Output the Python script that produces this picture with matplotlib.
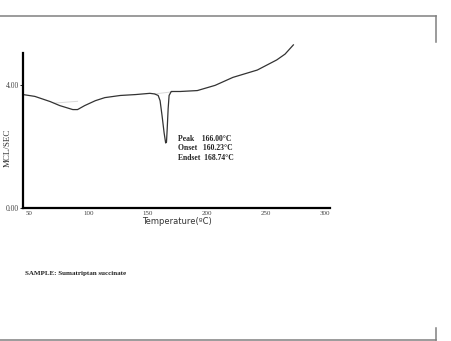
import numpy as np
import matplotlib
matplotlib.use("Agg")
import matplotlib.pyplot as plt
from matplotlib.lines import Line2D

# DSC curve of sumatriptan succinate
temp = [45, 55, 68, 76, 87, 91, 97, 106, 114, 127, 140, 152, 156, 159,
        160.6, 162.3, 164, 165.3, 166, 166.6, 167.4, 168.2, 170, 177.5,
        192, 207, 222, 242.6, 259, 266, 273]
mcl = [3.70, 3.64, 3.47, 3.34, 3.21, 3.21, 3.34, 3.50, 3.60, 3.67, 3.70,
       3.74, 3.72, 3.67, 3.50, 3.00, 2.45, 2.12, 2.15, 2.58, 3.24, 3.67,
       3.80, 3.80, 3.83, 4.00, 4.26, 4.50, 4.83, 5.02, 5.32]

# faint integration baselines
base1_t = [71, 91]
base1_v = [3.42, 3.48]
base2_t = [156, 171]
base2_v = [3.72, 3.79]

xticks = [50, 100, 150, 200, 250, 300]
yticks = [0, 4]
ylabels = ["0.00", "4.00"]

info = ["Peak    166.00°C", "Onset   160.23°C", "Endset  168.74°C"]
serif = "Liberation Serif"

fig = plt.figure(figsize=(4.51, 3.41), dpi=100)
ax = fig.add_axes([0.051, 0.390, 0.681, 0.455])

ax.plot(base1_t, base1_v, color="#dadada", lw=0.7)
ax.plot(base2_t, base2_v, color="#dadada", lw=0.7)
ax.plot(temp, mcl, color="#333333", lw=0.9, clip_on=False)

ax.set_xlim(45, 304)
ax.set_ylim(0, 5.06)
for s in ["top", "right"]:
    ax.spines[s].set_visible(False)
for s in ["left", "bottom"]:
    ax.spines[s].set_linewidth(1.6)
    ax.spines[s].set_color("black")

ax.set_xticks(xticks)
ax.set_xticklabels([str(t) for t in xticks], fontsize=5, family=serif, color="#444444")
ax.set_yticks(yticks)
ax.set_yticklabels(ylabels, fontsize=5.5, family=serif, color="#444444")
ax.tick_params(axis="x", length=0, pad=2)
ax.tick_params(axis="y", length=2, width=0.6, pad=1)

ax.set_xlabel("Temperature(ºC)", fontsize=6, family="DejaVu Sans", color="#333333", labelpad=1)
ax.set_ylabel("MCL/SEC", fontsize=6.5, family=serif, color="#333333")
ax.yaxis.set_label_coords(-0.036, 0.39)

fig.text(178 / 451, 1 - 148 / 341, "\n".join(info), fontsize=5.5, family=serif,
         fontweight="bold", color="#222222", va="center", ha="left", linespacing=1.25)

fig.text(25 / 451, 1 - 274 / 341, "SAMPLE: Sumatriptan succinate", fontsize=5,
         family=serif, fontweight="bold", color="#222222", va="center", ha="left")

# grey page frame pieces
gray = "#808080"
fig.add_artist(Line2D([0, 436 / 451], [1 - 16 / 341] * 2, color=gray, lw=1.1))
fig.add_artist(Line2D([436 / 451] * 2, [1 - 16 / 341, 1 - 42 / 341], color=gray, lw=1.1))
fig.add_artist(Line2D([0, 436 / 451], [1 - 340 / 341] * 2, color=gray, lw=1.1))
fig.add_artist(Line2D([436 / 451] * 2, [1 - 340 / 341, 1 - 328 / 341], color=gray, lw=1.1))

fig.savefig("out.png", dpi=100)
